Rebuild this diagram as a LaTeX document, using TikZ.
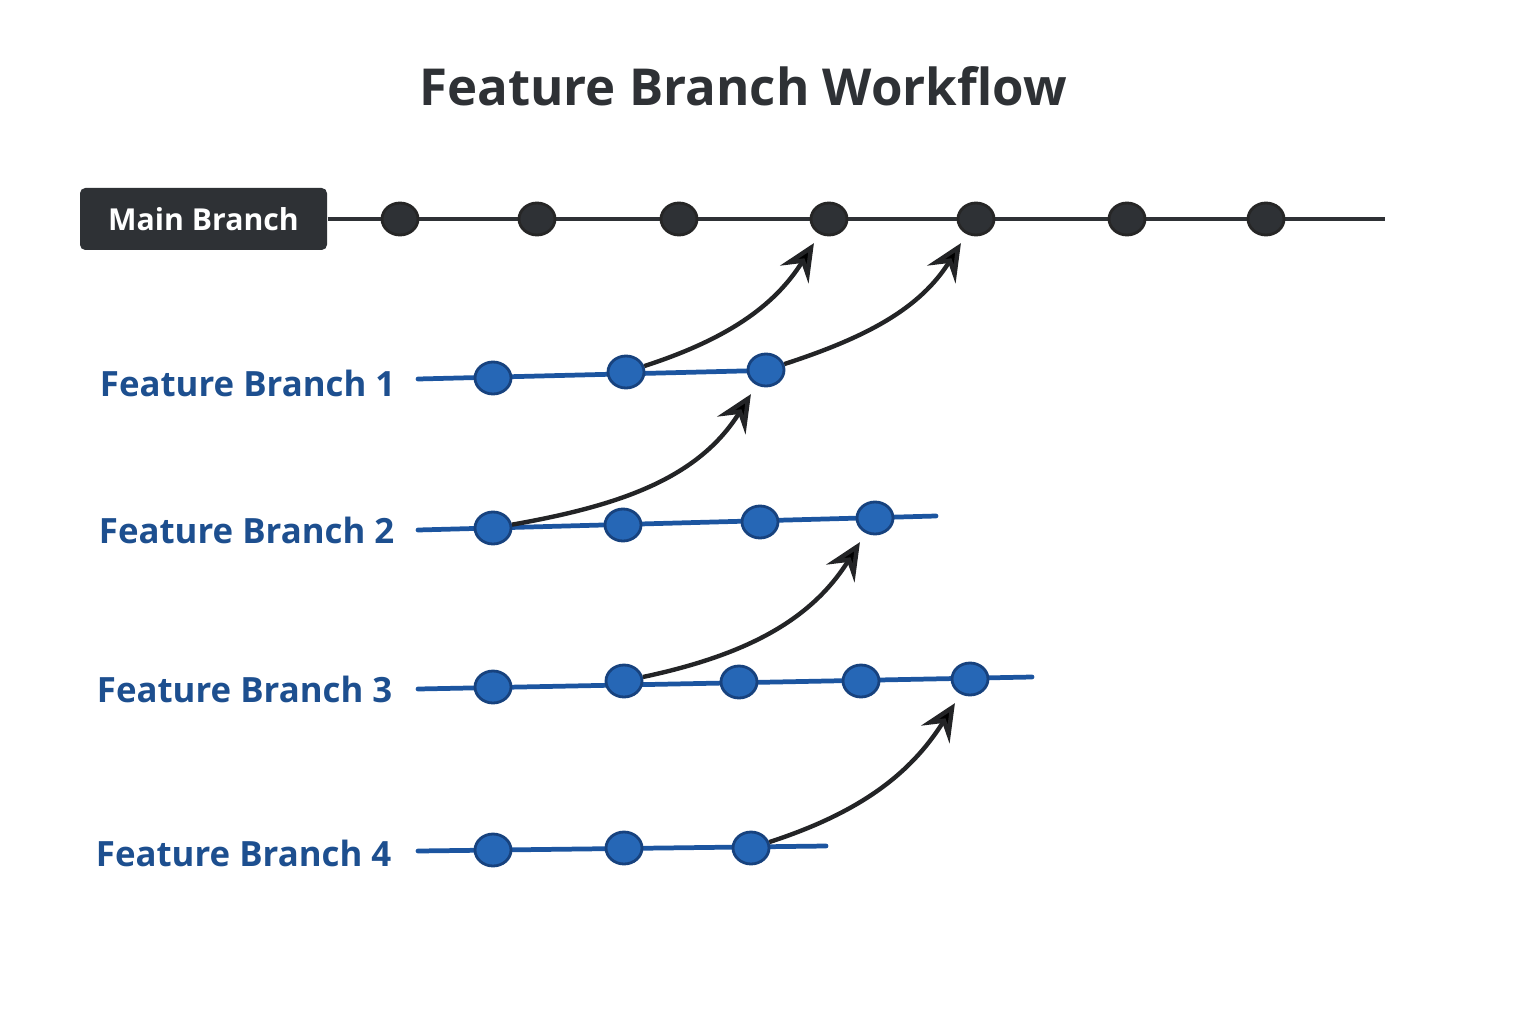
\documentclass[tikz,border=0pt]{standalone}
\usepackage{fontspec}
\setmainfont{Open Sans}
\usetikzlibrary{arrows.meta,positioning,shapes.geometric}
\definecolor{maindark}{HTML}{2E3135}
\definecolor{featblue}{HTML}{2667B6}
\definecolor{featedge}{HTML}{17427E}
\definecolor{featstroke}{HTML}{1C55A0}
\definecolor{labelblue}{HTML}{1D4F8F}
\definecolor{mergeline}{HTML}{232426}

\begin{document}
\begin{tikzpicture}[>={Stealth[length=10.5pt,width=9.5pt,inset=3.8pt]},
    commit/.style={ellipse, draw, line width=0.8pt, minimum width=0.36cm, minimum height=0.32cm, inner sep=0pt},
    maincommit/.style={commit, fill=maindark, draw=black!85},
    featcommit/.style={commit, fill=featblue, draw=featedge},
    mainline/.style={draw=maindark, line width=1.05pt},
    featline/.style={draw=featstroke, line width=1.35pt, line cap=round},
    merge/.style={->, draw=mergeline, line width=1.25pt, shorten >=3pt},
    branchlabel/.style={anchor=east, inner sep=0pt, text=labelblue, font=\bfseries\fontsize{9.9}{12}\selectfont}]
    \useasboundingbox[fill=white] (0,0) rectangle (15.36,10.24);

    \node[text=maindark, font=\bfseries\fontsize{14.5}{17}\selectfont] (title) at (7.43,9.38) {Feature Branch Workflow};

    % main branch
    \node[fill=maindark, rounded corners=1.5pt, text=white, minimum width=2.47cm, minimum height=0.62cm,
          font=\bfseries\fontsize{8.6}{10}\selectfont] (main) at (2.035,8.05) {Main Branch};
    \coordinate (mainend) at (13.85,8.05);
    \path[mainline] (main) -- (mainend);
    \node[maincommit] (m1) at (4.00,8.05) {};
    \node[maincommit] (m2) at (5.37,8.05) {};
    \node[maincommit] (m3) at (6.79,8.05) {};
    \node[maincommit] (m4) at (8.29,8.05) {};
    \node[maincommit] (m5) at (9.76,8.05) {};
    \node[maincommit] (m6) at (11.27,8.05) {};
    \node[maincommit] (m7) at (12.66,8.05) {};

    % feature branch 1
    \node[branchlabel] (fb1) at (3.96,6.41) {Feature Branch 1};
    \coordinate (f1s) at (4.18,6.45);
    \coordinate (f1e) at (7.82,6.54);
    \path[featline] (f1s) -- (f1e);
    \node[featcommit] (f1a) at (4.93,6.46) {};
    \node[featcommit] (f1b) at (6.26,6.52) {};
    \node[featcommit] (f1c) at (7.66,6.54) {};

    % feature branch 2
    \node[branchlabel] (fb2) at (3.95,4.94) {Feature Branch 2};
    \coordinate (f2s) at (4.18,4.94);
    \coordinate (f2e) at (9.36,5.08);
    \path[featline] (f2s) -- (f2e);
    \node[featcommit] (f2a) at (4.93,4.96) {};
    \node[featcommit] (f2b) at (6.23,4.99) {};
    \node[featcommit] (f2c) at (7.60,5.02) {};
    \node[featcommit] (f2d) at (8.75,5.06) {};

    % feature branch 3
    \node[branchlabel] (fb3) at (3.93,3.35) {Feature Branch 3};
    \coordinate (f3s) at (4.18,3.35);
    \coordinate (f3e) at (10.32,3.47);
    \path[featline] (f3s) -- (f3e);
    \node[featcommit] (f3a) at (4.93,3.37) {};
    \node[featcommit] (f3b) at (6.24,3.43) {};
    \node[featcommit] (f3c) at (7.39,3.42) {};
    \node[featcommit] (f3d) at (8.61,3.43) {};
    \node[featcommit] (f3e) at (9.70,3.45) {};

    % feature branch 4
    \node[branchlabel] (fb4) at (3.92,1.71) {Feature Branch 4};
    \coordinate (f4s) at (4.18,1.73);
    \coordinate (f4e) at (8.26,1.78);
    \path[featline] (f4s) -- (f4e);
    \node[featcommit] (f4a) at (4.93,1.74) {};
    \node[featcommit] (f4b) at (6.24,1.76) {};
    \node[featcommit] (f4c) at (7.51,1.76) {};

    % merges
    \path[merge] (f1b) edge[out=18, in=-122] (m4)
                 (f1c) edge[out=18, in=-122] (m5)
                 (f2a) edge[out=10, in=-122] (f1c)
                 (f3b) edge[out=12, in=-122] (f2d)
                 (f4c) edge[out=18, in=-122] (f3e);
\end{tikzpicture}
\end{document}
